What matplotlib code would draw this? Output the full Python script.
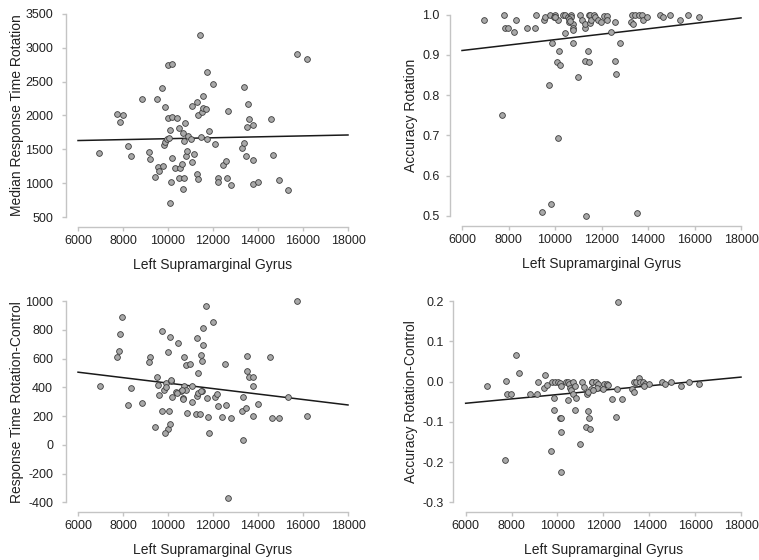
import matplotlib
matplotlib.use("Agg")
import matplotlib.pyplot as plt

plt.rcParams['font.family'] = ['Liberation Sans', 'DejaVu Sans']
plt.rcParams['axes.unicode_minus'] = False

# x values shared axis label / ticks
x_label = "Left Supramarginal Gyrus"
x_ticks = [6000, 8000, 10000, 12000, 14000, 16000, 18000]
fit_x = [6000, 18000]

# panel 1: median response time rotation
rt_x = [6930, 7730, 7996, 7877, 8217, 8364, 8822, 9148, 9192, 9428, 9502, 9561,
        9606, 9739, 9783, 9857, 9828, 9887, 9946, 9990, 9990, 10049, 10079, 10094,
        10152, 10182, 10182, 10197, 10330, 10389, 10478, 10492, 10537, 10611, 10655,
        10684, 10729, 10758, 10699, 10788, 10832, 10877, 11010, 11083, 11083, 11172,
        11276, 11276, 11335, 11335, 11423, 11453, 11542, 11497, 11571, 11689, 11719,
        11749, 11822, 11985, 12103, 12221, 12221, 12428, 12576, 12606, 12665, 12813,
        13271, 13359, 13374, 13448, 13507, 13537, 13611, 13773, 13788, 13773, 13980,
        14571, 14660, 14941, 15354, 15724, 16182]
rt_y = [1440, 2018, 2010, 1909, 1548, 1400, 2250, 1454, 1355, 1093, 2245, 1241,
        1182, 2403, 1261, 2126, 1563, 1612, 1652, 2739, 1963, 1662, 708, 1785,
        1019, 2764, 1978, 1365, 1227, 1968, 1815, 1078, 1222, 1281, 915,
        1736, 1617, 1884, 1078, 1400, 1474, 1696, 1647, 1311, 2141, 1429,
        1133, 2200, 2008, 1059, 3184, 1686, 2285, 2052, 2107, 2097, 1647,
        2650, 1770, 2462, 1583, 1073, 1019, 1266, 1325, 1083, 2067, 979,
        1513, 2418, 1588, 1405, 1835, 2166, 1943, 1859, 1340, 984, 1019,
        1943, 1410, 1054, 905, 2912, 2828]
rt_fit = [1630, 1712]
rt_ticks = [500, 1000, 1500, 2000, 2500, 3000, 3500]

# panel 2: accuracy rotation
acc_x = [6959, 7790, 7862, 7991, 8236, 8335, 8809, 9140, 9182, 9527, 9583, 9770,
         10000, 9871, 9940, 10172, 10069, 10198, 9742, 10129, 10344, 10443, 10443,
         10559, 10602, 10701, 10688, 10758, 10787, 10787, 10787, 11002, 11088, 11161,
         11273, 11303, 11273, 11462, 11419, 11475, 11520, 10142, 7703, 9424, 9828,
         11346, 11505, 11660, 11561, 11703, 11849, 11991, 12091, 12220, 12220, 12594,
         12409, 12810, 12566, 12637, 13312, 13441, 13596, 13742, 13253, 13355, 13768,
         13957, 14530, 14645, 14946, 15376, 15733, 16177, 13527, 10010, 10600, 10650]
acc_y = [0.988, 1.0, 0.968, 0.968, 0.956, 0.986, 0.968, 0.968, 1.0, 0.988, 0.995, 1.0,
         1.0, 0.930, 0.995, 0.910, 0.882, 0.874, 0.826, 0.988, 1.0, 1.0, 0.954,
         0.995, 0.982, 1.0, 0.995, 0.930, 0.976, 0.968, 0.962, 0.845, 1.0, 0.988,
         0.968, 0.977, 0.886, 0.882, 0.911, 1.0, 0.980, 0.694, 0.751, 0.511, 0.529,
         0.501, 1.0, 1.0, 0.988, 0.993, 0.988, 0.982, 0.996, 0.996, 0.988, 0.982,
         0.957, 0.930, 0.885, 0.853, 1.0, 1.0, 1.0, 1.0, 0.983, 0.977, 0.988,
         0.995, 1.0, 0.995, 1.0, 0.988, 1.0, 0.995, 0.507, 0.995, 0.990, 0.985]
acc_fit = [0.911, 0.992]
acc_ticks = [0.5, 0.6, 0.7, 0.8, 0.9, 1.0]

# panel 3: response time rotation-control
rtd_x = [6960, 7964, 7875, 7801, 7727, 8364, 8231, 8823, 9191, 9147, 9501, 9560,
         9590, 9737, 9752, 9413, 9842, 9915, 9900, 9988, 10093, 9988, 9856, 10093,
         10062, 10137, 10182, 10373, 10462, 10580, 10684, 10713, 10800, 10729, 10800,
         10980, 11250, 11426, 11295, 11354, 11502, 11486, 11546, 11575, 11694, 11738,
         11768, 11990, 12537, 13495, 14530, 15720, 13510, 13613, 13760, 13760, 11502,
         12090, 12194, 12225, 12593, 13355, 13267, 13444, 13991, 13783, 12417, 12815,
         15350, 14640, 14936, 16163, 11826, 13355, 12662, 10123, 10389, 10611, 10655,
         10832, 11083, 11276, 11350, 11083, 11483]
rtd_y = [407, 887, 773, 654, 611, 395, 277, 289, 611, 576, 469, 414,
         344, 237, 791, 126, 383, 428, 400, 647, 752, 112, 84, 142,
         237, 446, 334, 365, 706, 374, 323, 411, 379, 611, 555,
         562, 216, 216, 745, 499, 585, 624, 810, 694, 965, 323,
         191, 856, 564, 617, 608, 1000, 515, 469, 469, 411, 376,
         334, 355, 267, 279, 332, 235, 258, 286, 202, 191, 186,
         332, 188, 184, 198, 84, 33, -370, 451, 360, 381, 321,
         223, 298, 342, 358, 409, 374]
rtd_fit = [505, 277]
rtd_ticks = [-400, -200, 0, 200, 400, 600, 800, 1000]

# panel 4: accuracy rotation-control
accd_x = [6946, 7774, 7804, 7964, 8196, 8341, 7701, 8806, 9124, 9168, 9474, 9402,
          9530, 9766, 9897, 9840, 9853, 10014, 10116, 10140, 10363, 10450, 10523,
          10669, 10116, 10174, 10174, 9724, 10145, 10450, 10756, 10550, 10600, 10700,
          10800, 10750, 11061, 11176, 11280, 11323, 11367, 11263, 11425, 11002, 11454,
          11498, 11528, 11702, 11789, 11716, 12048, 12151, 12222, 11964, 12591, 12399,
          12822, 12558, 12631, 13243, 13344, 13315, 13419, 13535, 13600, 13710, 13800,
          13972, 13785, 14552, 14667, 14945, 15380, 15729, 16179, 11350, 11550]
accd_y = [-0.011, 0.001, -0.032, -0.032, 0.067, 0.021, -0.194, -0.032, -0.031, 0.0,
          0.016, -0.017, -0.009, 0.0, 0.0, -0.041, -0.071, 0.0, -0.004, -0.010, 0.0,
          0.0, -0.007, 0.0, -0.091, -0.091, -0.125, -0.173, -0.224, -0.047, -0.071,
          -0.015, -0.020, -0.030, -0.040, -0.010, 0.0, -0.014, -0.031, -0.073, -0.090,
          -0.114, -0.118, -0.154, -0.019, 0.0, 0.0, 0.0, -0.006, -0.015, -0.005,
          -0.005, -0.008, -0.019, -0.019, -0.043, -0.043, -0.087, 0.197, -0.019,
          -0.025, 0.0, 0.0, 0.008, 0.0, 0.0, -0.006, -0.006, -0.012, 0.0, -0.006,
          0.0, -0.012, 0.0, -0.007, -0.025, -0.020]
accd_fit = [-0.054, 0.011]
accd_ticks = [-0.3, -0.2, -0.1, 0.0, 0.1, 0.2]

SPINE_COLOR = '#c4c4c4'
TEXT_COLOR = '#222222'


def draw_panel(ax, xs, ys, fit_y, y_ticks, y_label, y_fmt, ypad, lpad):
    """Scatter with fitted line, JASP-like detached axes."""
    ax.plot(fit_x, fit_y, color='#1a1a1a', lw=1.1, zorder=2, clip_on=False)
    ax.scatter(xs, ys, s=17, facecolor='#a8a8a8', edgecolor='#3c3c3c',
               linewidths=0.6, zorder=3, clip_on=False)

    ax.set_xlim(x_ticks[0], x_ticks[-1])
    ax.set_ylim(y_ticks[0], y_ticks[-1])
    ax.set_xticks(x_ticks)
    ax.set_yticks(y_ticks)
    ax.set_yticklabels([y_fmt.format(v) for v in y_ticks])

    for side in ('top', 'right'):
        ax.spines[side].set_visible(False)
    ax.spines['left'].set_position(('outward', 9))
    ax.spines['bottom'].set_position(('outward', 7))
    ax.spines['left'].set_bounds(y_ticks[0], y_ticks[-1])
    ax.spines['bottom'].set_bounds(x_ticks[0], x_ticks[-1])
    for side in ('left', 'bottom'):
        ax.spines[side].set_color(SPINE_COLOR)
        ax.spines[side].set_linewidth(1.0)

    ax.tick_params(axis='both', colors=SPINE_COLOR, length=3, width=1.0,
                   labelcolor=TEXT_COLOR, labelsize=9, pad=3)
    ax.tick_params(axis='y', pad=ypad)
    ax.set_xlabel(x_label, fontsize=10, color=TEXT_COLOR, labelpad=8)
    ax.set_ylabel(y_label, fontsize=10, color=TEXT_COLOR, labelpad=lpad)


fig = plt.figure(figsize=(7.59, 5.6), dpi=100)

ax1 = fig.add_axes([0.1028, 0.6125, 0.3557, 0.3625])
ax2 = fig.add_axes([0.6087, 0.6143, 0.3676, 0.3595])
ax3 = fig.add_axes([0.1028, 0.1030, 0.3557, 0.3595])
ax4 = fig.add_axes([0.6135, 0.1030, 0.3628, 0.3595])

draw_panel(ax1, rt_x, rt_y, rt_fit, rt_ticks, "Median Response Time Rotation", "{:.0f}", 6, 0.5)
draw_panel(ax2, acc_x, acc_y, acc_fit, acc_ticks, "Accuracy Rotation", "{:.1f}", 4, 3)
draw_panel(ax3, rtd_x, rtd_y, rtd_fit, rtd_ticks, "Response Time Rotation-Control", "{:.0f}", 6, 1)
draw_panel(ax4, accd_x, accd_y, accd_fit, accd_ticks, "Accuracy Rotation-Control", "{:.1f}", 4, 3)

fig.savefig("out.png", dpi=100)
